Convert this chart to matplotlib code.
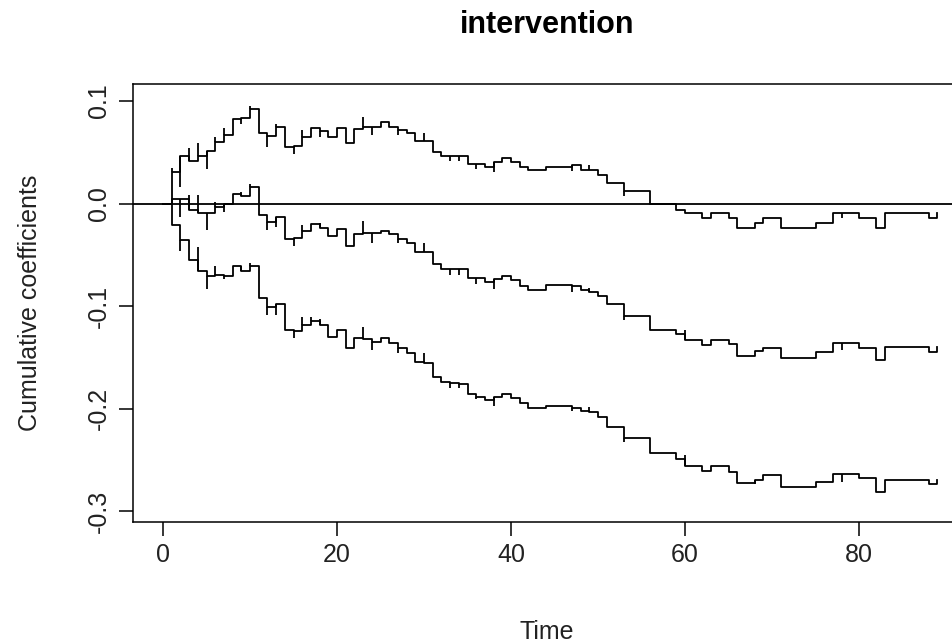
import numpy as np
import matplotlib
matplotlib.use("Agg")
import matplotlib.pyplot as plt

plt.rcParams['font.family'] = ['Liberation Sans', 'DejaVu Sans']

# jump times of the cumulative coefficient and its confidence band
time = [0, 1, 2, 3, 4, 5, 6, 7, 8, 9, 10, 11, 12, 13, 14, 15, 16, 17, 18, 19, 20,
        21, 22, 23, 24, 25, 26, 27, 28, 29, 30, 31, 32, 33, 34, 35, 36, 37, 38, 39,
        40, 41, 42, 44, 47, 48, 49, 50, 51, 53, 56, 59, 60, 62, 63, 65, 66, 68, 69,
        71, 75, 77, 80, 82, 83, 88, 89]

upper = [0, 0.0311, 0.0467, 0.0418, 0.0467, 0.0515, 0.0603, 0.0668, 0.0821, 0.0831,
         0.0922, 0.0685, 0.0659, 0.0750, 0.0548, 0.0561, 0.0652, 0.0733, 0.0710, 0.0652,
         0.0733, 0.0587, 0.0724, 0.0743, 0.0750, 0.0792, 0.0750, 0.0717, 0.0685, 0.0610,
         0.0610, 0.0499, 0.0467, 0.0467, 0.0467, 0.0385, 0.0385, 0.0359, 0.0408, 0.0441,
         0.0408, 0.0359, 0.0327, 0.0359, 0.0376, 0.0327, 0.0327, 0.0278, 0.0197, 0.0122,
         -0.0008, -0.0063, -0.0096, -0.0145, -0.0096, -0.0138, -0.0236, -0.0187, -0.0145,
         -0.0236, -0.0193, -0.0096, -0.0145, -0.0242, -0.0096, -0.0145, -0.0097]

estimate = [0, 0.0041, 0.0041, -0.0063, -0.0089, -0.0089, -0.0031, -0.0008, 0.0093, 0.0076,
            0.0158, -0.0112, -0.0184, -0.0128, -0.0346, -0.0340, -0.0268, -0.0203, -0.0236,
            -0.0314, -0.0252, -0.0411, -0.0301, -0.0291, -0.0291, -0.0268, -0.0301, -0.0346,
            -0.0389, -0.0470, -0.0470, -0.0593, -0.0639, -0.0639, -0.0639, -0.0730, -0.0730,
            -0.0769, -0.0737, -0.0704, -0.0746, -0.0802, -0.0844, -0.0795, -0.0802, -0.0844,
            -0.0860, -0.0902, -0.0984, -0.1094, -0.1234, -0.1276, -0.1332, -0.1380, -0.1332,
            -0.1374, -0.1488, -0.1439, -0.1407, -0.1504, -0.1452, -0.1364, -0.1413, -0.1527,
            -0.1403, -0.1444, -0.1403]

lower = [0, -0.0210, -0.0356, -0.0548, -0.0655, -0.0704, -0.0698, -0.0704, -0.0607, -0.0655,
         -0.0607, -0.0919, -0.1013, -0.0984, -0.1234, -0.1241, -0.1185, -0.1143, -0.1185,
         -0.1299, -0.1234, -0.1407, -0.1309, -0.1325, -0.1354, -0.1315, -0.1364, -0.1413,
         -0.1455, -0.1543, -0.1559, -0.1689, -0.1745, -0.1754, -0.1764, -0.1859, -0.1885,
         -0.1917, -0.1885, -0.1859, -0.1901, -0.1950, -0.1998, -0.1972, -0.1998, -0.2024,
         -0.2031, -0.2080, -0.2184, -0.2291, -0.2437, -0.2496, -0.2558, -0.2610, -0.2558,
         -0.2623, -0.2724, -0.2698, -0.2649, -0.2763, -0.2714, -0.2639, -0.2680, -0.2811,
         -0.2698, -0.2737, -0.2698]

# tied event times show up as short vertical spikes
nan = np.nan
spike_time = [1, 2, 3, 4, 5, 6, 7, 9, 10, 12, 13, 15, 16, 17, 18, 23, 24, 27, 30,
              33, 34, 36, 38, 47, 49, 53, 60, 68, 78]
spike_upper = [0.0343, 0.0164, 0.0545, 0.0593, 0.0337, 0.0652, 0.0733, 0.0776, 0.0954,
               0.0554, 0.0776, 0.0480, 0.0717, nan, 0.0652, 0.0847, 0.0668, 0.0668, 0.0691,
               0.0415, 0.0415, 0.0336, 0.0310, 0.0320, 0.0376, 0.0076, nan, nan, -0.0145]
spike_estimate = [nan, -0.0128, 0.0083, 0.0083, -0.0259, 0.0018, -0.0080, 0.0109, 0.0187,
                  -0.0259, -0.0225, -0.0411, -0.0210, nan, -0.0193, -0.0171, -0.0382, -0.0389,
                  -0.0382, -0.0698, -0.0698, -0.0789, -0.0834, -0.0860, -0.0821, -0.1137,
                  -0.1234, nan, -0.1430]
spike_lower = [nan, -0.0460, nan, -0.0421, -0.0834, -0.0607, -0.0737, -0.0607, -0.0584,
               -0.1088, -0.1088, -0.1315, -0.1110, -0.1104, -0.1127, -0.1202, -0.1429, -0.1462,
               -0.1462, -0.1803, -0.1803, -0.1908, -0.1973, -0.2021, -0.1982, -0.2330,
               -0.2452, -0.2740, -0.2714]

xticks = [0, 20, 40, 60, 80]
yticks = [-0.3, -0.2, -0.1, 0.0, 0.1]
ytick_labels = ["-0.3", "-0.2", "-0.1", "0.0", "0.1"]

fig = plt.figure(figsize=(9.53, 6.43), dpi=100)
ax = fig.add_axes([133 / 953, 1 - 522 / 643, 828 / 953, 438 / 643])

lw = 1.3
t_arr = np.array(time)
for vals, spikes in [(upper, spike_upper), (estimate, spike_estimate), (lower, spike_lower)]:
    ax.step(time, vals, where='post', color='black', lw=lw)
    idx = np.searchsorted(t_arr, spike_time, side='right') - 1
    base = np.array(vals)[idx]
    sp = np.array(spikes)
    ok = ~np.isnan(sp)
    ax.vlines(np.array(spike_time)[ok], np.minimum(base, sp)[ok], np.maximum(base, sp)[ok],
              color='black', lw=lw)

ax.axhline(0, color='black', lw=lw)

ax.set_xlim(-3.45, 91.72)
ax.set_ylim(-0.3107, 0.1166)
ax.set_xticks(xticks)
ax.set_xticklabels([str(x) for x in xticks])
ax.set_yticks(yticks)
ax.set_yticklabels(ytick_labels, rotation=90, va='center')
ax.tick_params(direction='out', length=10, width=1.1, labelsize=18, pad=5,
               color='black', labelcolor='#222222')
ax.tick_params(axis='y', pad=6)
for s in ax.spines.values():
    s.set_linewidth(1.1)

ax.set_title('intervention', fontsize=22, fontweight='bold', y=(522 - 25) / 438,
             va='center', pad=0)
ax.set_xlabel('Time', fontsize=18, color='#222222')
ax.xaxis.set_label_coords(0.5, -0.251)
ax.xaxis.label.set_va('center')
ax.set_ylabel('Cumulative coefficients', fontsize=18, color='#222222')
ax.yaxis.set_label_coords(-0.1244, 0.5)
ax.yaxis.label.set_va('center')

fig.savefig('out.png', dpi=100)
